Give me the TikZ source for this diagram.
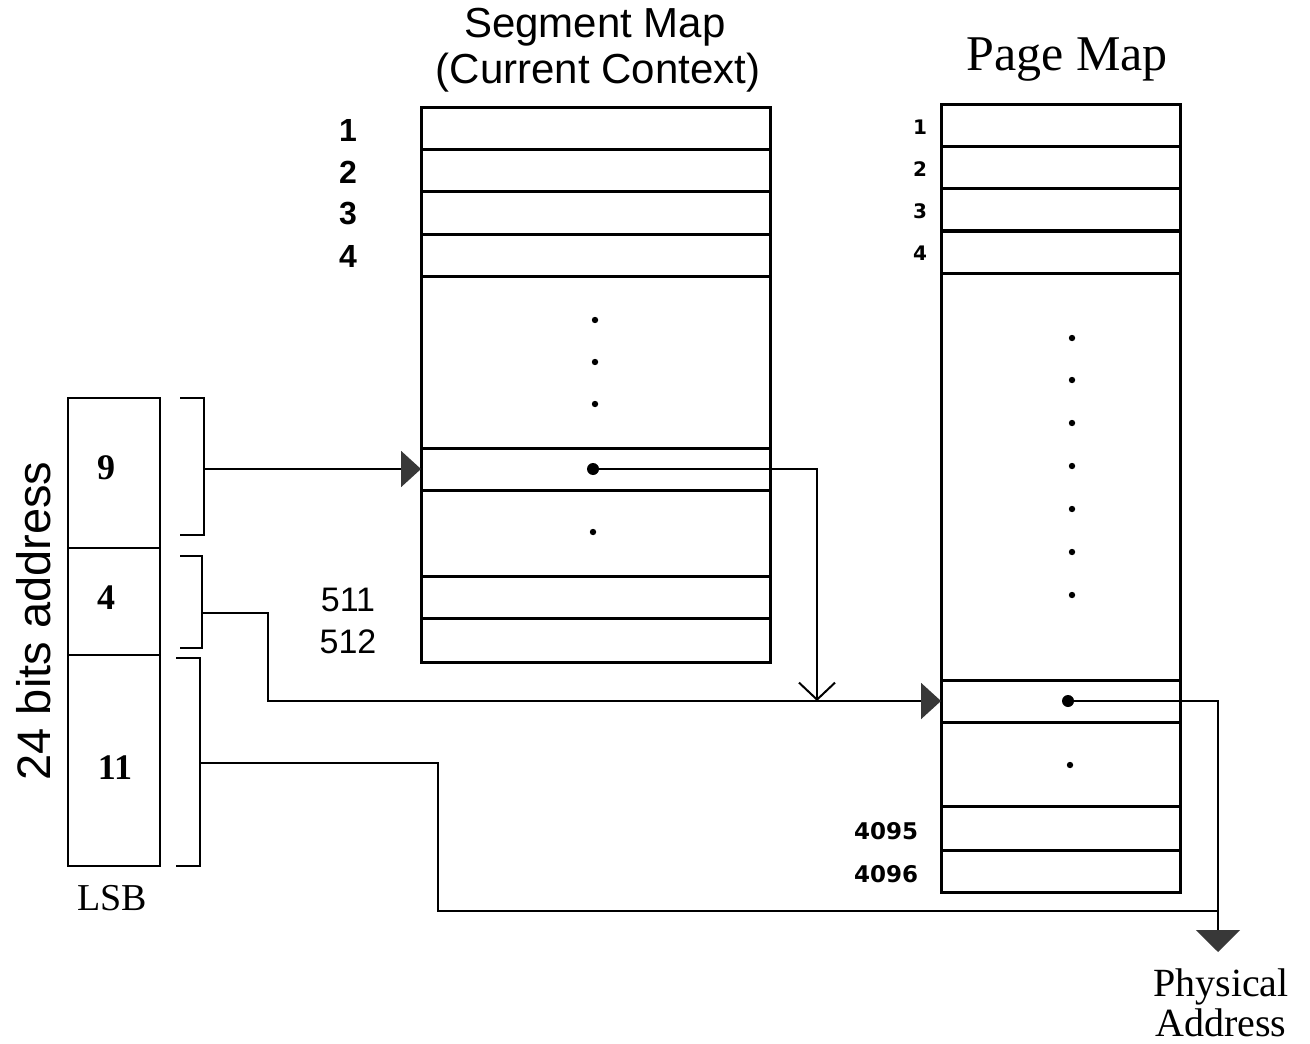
\documentclass[tikz,border=0pt]{standalone}
\usepackage{fontspec}
\setmainfont{Liberation Serif}
\setsansfont{Liberation Sans}
\newfontfamily\dejavu{DejaVu Sans}
\usetikzlibrary{arrows.meta}
\begin{document}
\begin{tikzpicture}[x=0.5pt,y=-0.5pt,
  frame/.style={draw,line width=1.5pt,inner sep=0pt},
  rowline/.style={line width=1.5pt},
  field/.style={draw,line width=1pt,inner sep=0pt,minimum width=46pt},
  fieldlab/.style={font=\bfseries\fontsize{18}{21}\selectfont},
  conn/.style={line width=1pt},
  fillarrow/.style={-{Triangle[length=10pt,width=18pt,color=black!78]}},
  downarrow/.style={-{Triangle[length=11pt,width=22pt,color=black!78]}},
  openarrow/.style={-{Straight Barb[length=8.5pt,width=18pt]}},
  seglab/.style={font=\sffamily\bfseries\fontsize{16}{19}\selectfont},
  seglabn/.style={font=\sffamily\fontsize{17}{20}\selectfont},
  pagelab/.style={font=\dejavu\bfseries\fontsize{10}{12}\selectfont},
  pagelabb/.style={font=\dejavu\bfseries\fontsize{11.5}{14}\selectfont},
]
\useasboundingbox (0,0) rectangle (1310,1043);
\fill[white] (0,0) rectangle (1310,1043);

% titles
\node[font=\sffamily\fontsize{21}{25}\selectfont] (t1) at (595,27) {Segment Map};
\node[font=\sffamily\fontsize{21}{25}\selectfont] (t2) at (598,73) {(Current Context)};
\node[font=\fontsize{25}{30}\selectfont] (t3) at (1067,60) {Page Map};

% segment map
\node[frame,minimum width=174.5pt,minimum height=277pt] (seg) at (595.5,385) {};
\foreach \y in {150,192,234,276,448,490,576,618}
  \draw[rowline] (421,\y) -- (770,\y);
\foreach \y in {320,362,404} \fill (595,\y) circle (1.6pt);
\fill (593,532) circle (1.6pt);
\node[seglab] (s1) at (348,130) {1};
\node[seglab] (s2) at (348,172) {2};
\node[seglab] (s3) at (348,214) {3};
\node[seglab] (s4) at (348,256) {4};
\node[seglabn] (s511) at (348,600) {511};
\node[seglabn] (s512) at (348,642) {512};

% page map
\node[frame,minimum width=119.5pt,minimum height=393.5pt] (pm) at (1060.5,498.5) {};
\foreach \y in {147,189,231,273,680,722,806,850}
  \draw[rowline] (941,\y) -- (1180,\y);
\foreach \y in {338,380,423,466,509,552,595} \fill (1072,\y) circle (1.6pt);
\fill (1070,765) circle (1.6pt);
\node[pagelab] (p1) at (920,127) {1};
\node[pagelab] (p2) at (920,169) {2};
\node[pagelab] (p3) at (920,211) {3};
\node[pagelab] (p4) at (920,253) {4};
\node[pagelabb] (p4095) at (886,831) {4095};
\node[pagelabb] (p4096) at (886,874) {4096};

% address fields
\node[field,minimum height=75pt] (f9) at (114,473) {};
\node[field,minimum height=53.5pt] (f4) at (114,601.5) {};
\node[field,minimum height=105.5pt] (f11) at (114,760.5) {};
\node[fieldlab] (l9) at (106,468) {9};
\node[fieldlab] (l4) at (106,598) {4};
\node[fieldlab] (l11) at (115,768) {11};
\node[rotate=90,font=\sffamily\fontsize{23.5}{28}\selectfont] (lab24) at (34,621) {24 bits address};
\node[font=\fontsize{19}{22}\selectfont] (lsb) at (112,898) {LSB};

% brackets
\coordinate (b9out) at (204,469);
\coordinate (b4out) at (202,613);
\coordinate (b11out) at (200,763);
\draw[conn] (180,398) -- (204,398) -- (204,535) -- (180,535);
\draw[conn] (180,556) -- (202,556) -- (202,648) -- (180,648);
\draw[conn] (176,658) -- (200,658) -- (200,866) -- (176,866);

% key points
\coordinate (segE) at (421,469);
\coordinate (pageE) at (941,701);
\coordinate (segdot) at (593,469);
\coordinate (pagedot) at (1068,701);
\coordinate (j4) at (268,701);
\coordinate (vtip) at (817,701);
\coordinate (phys) at (1218,952);
\coordinate (j11) at (438,911);
\coordinate (join) at (1218,911);

\fill (segdot) circle (3pt);
\fill (pagedot) circle (3pt);

% connectors
\draw[conn,fillarrow] (b9out) -- (segE);
\draw[conn,fillarrow] (b4out) -| (j4) -- (pageE);
\draw[conn,openarrow] (segdot) -| (vtip);
\draw[conn,downarrow] (pagedot) -| (phys);
\draw[conn] (b11out) -| (j11) -- (join);

\node[font=\fontsize{20}{20}\selectfont,align=center,anchor=north] (pa) at (1221,962) {Physical\\Address};
\end{tikzpicture}
\end{document}
